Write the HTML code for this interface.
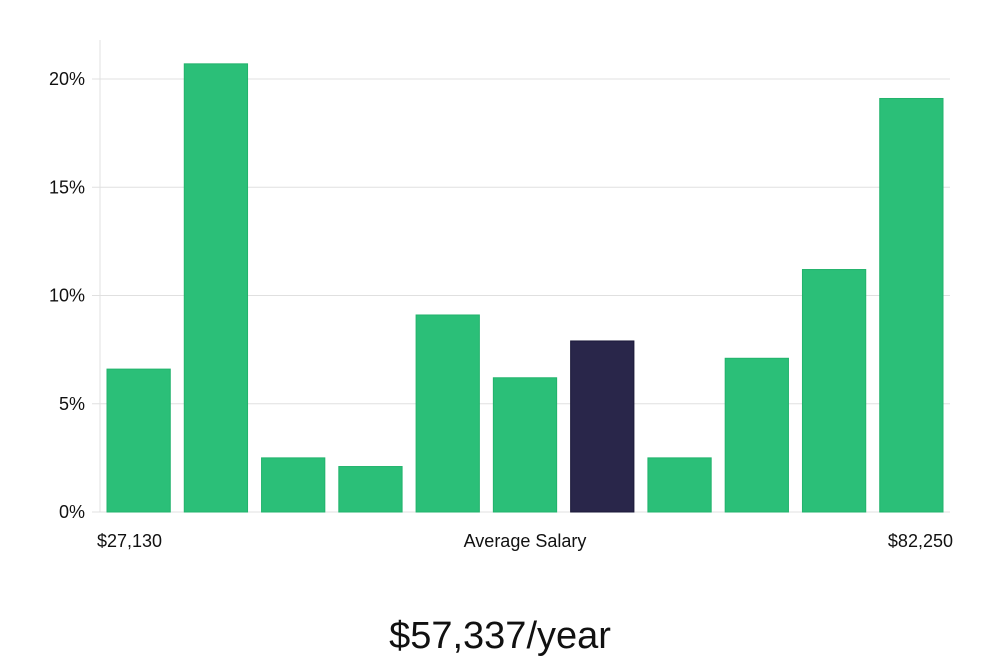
<!DOCTYPE html>
<html><head><meta charset="utf-8"><style>
html,body{margin:0;padding:0;background:#fff;width:1000px;height:660px;overflow:hidden;font-family:"Liberation Sans","DejaVu Sans",sans-serif;}
</style></head><body>
<svg id="chart" width="1000" height="660" xmlns="http://www.w3.org/2000/svg"></svg>
<script>
const categories=["b1","b2","b3","b4","b5","b6","b7","b8","b9","b10","b11"];
const values=[6.6,20.7,2.5,2.1,9.1,6.2,7.9,2.5,7.1,11.2,19.1];
const highlightIndex=6;
const yTicks=[0,5,10,15,20];
const yTickLabels=["0%","5%","10%","15%","20%"];
const xLabels=["$27,130","Average Salary","$82,250"];
const title="$57,337/year";

const NS="http://www.w3.org/2000/svg";
const svg=document.getElementById('chart');
const x0=100,x1=950,yBase=512,pxPerPct=21.65;
const band=(x1-x0)/categories.length;
function y(v){return yBase-v*pxPerPct;}
function xb(i){return x0+i*band;}
function mk(t,a,parent){const e=document.createElementNS(NS,t);for(const k in a)e.setAttribute(k,a[k]);(parent||svg).appendChild(e);return e;}

let ax=mk('line',{x1:x0,y1:40,x2:x0,y2:yBase,stroke:'#e0e0e0','stroke-width':1});


yTicks.forEach((t,i)=>{
  const g=mk('line',{x1:x0-8,y1:y(t),x2:x1,y2:y(t),stroke:'#e0e0e0','stroke-width':1});
  
  
  const tx=mk('text',{x:85,y:y(t)+6,'text-anchor':'end','font-size':18,fill:'#111'});
  tx.textContent=yTickLabels[i];
  
  
});
values.forEach((v,i)=>{
  const hi=i===highlightIndex;
  const r=mk('rect',{x:xb(i)+7,y:y(v),width:band-14,height:yBase-y(v),fill:hi?'#29264a':'#2bbf78',stroke:hi?'#1a1838':'#22b36c','stroke-width':1});
  
  
});
const xl=[[97,'start'],[525,'middle'],[953,'end']];
xLabels.forEach((l,i)=>{
  const t=mk('text',{x:xl[i][0],y:547,'text-anchor':xl[i][1],'font-size':18,fill:'#111'});
  t.textContent=l;
  
  
});
const tt=mk('text',{x:500,y:648,'text-anchor':'middle','font-size':38,fill:'#111','font-weight':300});
tt.textContent=title;


</script>
</body></html>
